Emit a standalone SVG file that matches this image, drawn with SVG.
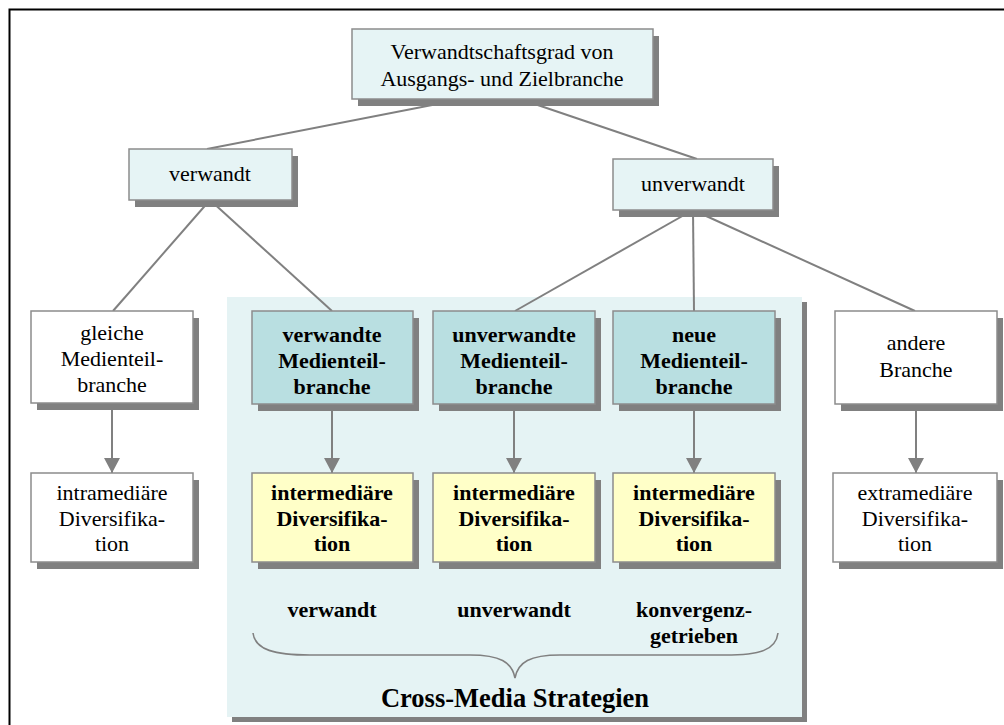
<svg xmlns="http://www.w3.org/2000/svg" width="1004" height="725" viewBox="0 0 1004 725">
  <style>
    .shadow { fill: #808080; }
    .box { stroke: #8c8c8c; stroke-width: 1.5; }
    .pale { fill: #e6f4f5; }
    .teal { fill: #b9dfe1; }
    .yellow { fill: #ffffc8; }
    .white { fill: #ffffff; }
    .t { font-family: "Liberation Serif", "Times New Roman", serif; font-size: 22px; fill: #000; text-anchor: middle; }
    .b { font-weight: bold; }
    .link { stroke: #808080; stroke-width: 2; fill: none; }
  </style>
  <defs>
    <marker id="arrow" markerUnits="userSpaceOnUse" markerWidth="16" markerHeight="16" viewBox="0 0 16 16" refX="15" refY="8" orient="auto">
      <path d="M0,0 L15,8 L0,16 Z" fill="#808080"/>
    </marker>
  </defs>

  <rect width="1004" height="725" fill="#ffffff"/>
  <!-- frame -->
  <path d="M9.5,725 V9.5 H1004" fill="none" stroke="#000" stroke-width="2"/>

  <!-- Cross-Media panel -->
  <g id="panel">
    <rect class="shadow" x="232" y="302" width="575" height="420"/>
    <rect x="227" y="297" width="575" height="420" fill="#e5f3f4"/>
    <text class="t b" x="515" y="707" style="font-size:26.5px">Cross-Media Strategien</text>
  </g>

  <!-- connectors -->
  <g id="connectors">
    <line class="link" x1="463" y1="99" x2="207" y2="149"/>
    <line class="link" x1="520" y1="99" x2="697" y2="159"/>
    <line class="link" x1="210" y1="200" x2="113" y2="311"/>
    <line class="link" x1="210" y1="200" x2="332" y2="311"/>
    <line class="link" x1="693" y1="210" x2="515" y2="311"/>
    <line class="link" x1="693" y1="210" x2="694" y2="311"/>
    <line class="link" x1="693" y1="210" x2="915" y2="311"/>
    <line class="link" x1="112" y1="404" x2="112" y2="473" marker-end="url(#arrow)"/>
    <line class="link" x1="332" y1="404" x2="332" y2="473" marker-end="url(#arrow)"/>
    <line class="link" x1="514" y1="404" x2="514" y2="473" marker-end="url(#arrow)"/>
    <line class="link" x1="694" y1="404" x2="694" y2="473" marker-end="url(#arrow)"/>
    <line class="link" x1="916" y1="404" x2="916" y2="473" marker-end="url(#arrow)"/>
    <!-- brace under the three strategies -->
    <path class="link" style="stroke-width:1.6" d="M253,633 C255,650 275,655 310,655 L470,655 C500,655 512,662 515,678 C518,662 530,655 560,655 L725,655 C760,655 776,650 778,633"/>
  </g>

  <!-- top node -->
  <g id="n-root">
    <rect class="shadow" x="358" y="36" width="301" height="70"/>
    <rect class="box pale" x="352" y="29" width="301" height="70"/>
    <text class="t" x="502" y="59">Verwandtschaftsgrad von</text>
    <text class="t" x="502" y="86">Ausgangs- und Zielbranche</text>
  </g>

  <g id="n-verwandt">
    <rect class="shadow" x="135" y="156" width="163" height="51"/>
    <rect class="box pale" x="129" y="149" width="163" height="51"/>
    <text class="t" x="210" y="181">verwandt</text>
  </g>

  <g id="n-unverwandt">
    <rect class="shadow" x="619" y="166" width="160" height="51"/>
    <rect class="box pale" x="613" y="159" width="160" height="51"/>
    <text class="t" x="693" y="191">unverwandt</text>
  </g>

  <!-- second row -->
  <g id="n-gleiche">
    <rect class="shadow" x="37" y="318" width="162" height="92"/>
    <rect class="box white" x="31" y="311" width="162" height="92"/>
    <text class="t" x="112" y="340">gleiche</text>
    <text class="t" x="112" y="366">Medienteil-</text>
    <text class="t" x="112" y="392">branche</text>
  </g>

  <g id="n-verwandte">
    <rect class="shadow" x="258" y="318" width="161" height="93"/>
    <rect class="box teal" x="252" y="311" width="161" height="93"/>
    <text class="t b" x="332" y="342">verwandte</text>
    <text class="t b" x="332" y="368">Medienteil-</text>
    <text class="t b" x="332" y="394">branche</text>
  </g>

  <g id="n-unverwandte">
    <rect class="shadow" x="439" y="318" width="162" height="93"/>
    <rect class="box teal" x="433" y="311" width="162" height="93"/>
    <text class="t b" x="514" y="342">unverwandte</text>
    <text class="t b" x="514" y="368">Medienteil-</text>
    <text class="t b" x="514" y="394">branche</text>
  </g>

  <g id="n-neue">
    <rect class="shadow" x="619" y="318" width="162" height="93"/>
    <rect class="box teal" x="613" y="311" width="162" height="93"/>
    <text class="t b" x="694" y="342">neue</text>
    <text class="t b" x="694" y="368">Medienteil-</text>
    <text class="t b" x="694" y="394">branche</text>
  </g>

  <g id="n-andere">
    <rect class="shadow" x="841" y="318" width="162" height="93"/>
    <rect class="box white" x="835" y="311" width="162" height="93"/>
    <text class="t" x="916" y="350">andere</text>
    <text class="t" x="916" y="377">Branche</text>
  </g>

  <!-- third row -->
  <g id="n-intra">
    <rect class="shadow" x="37" y="480" width="162" height="89"/>
    <rect class="box white" x="31" y="473" width="162" height="89"/>
    <text class="t" x="112" y="500">intramediäre</text>
    <text class="t" x="112" y="526">Diversifika-</text>
    <text class="t" x="112" y="551">tion</text>
  </g>

  <g id="n-inter1">
    <rect class="shadow" x="258" y="480" width="161" height="89"/>
    <rect class="box yellow" x="252" y="473" width="161" height="89"/>
    <text class="t b" x="332" y="500">intermediäre</text>
    <text class="t b" x="332" y="526">Diversifika-</text>
    <text class="t b" x="332" y="551">tion</text>
  </g>

  <g id="n-inter2">
    <rect class="shadow" x="439" y="480" width="162" height="89"/>
    <rect class="box yellow" x="433" y="473" width="162" height="89"/>
    <text class="t b" x="514" y="500">intermediäre</text>
    <text class="t b" x="514" y="526">Diversifika-</text>
    <text class="t b" x="514" y="551">tion</text>
  </g>

  <g id="n-inter3">
    <rect class="shadow" x="619" y="480" width="162" height="89"/>
    <rect class="box yellow" x="613" y="473" width="162" height="89"/>
    <text class="t b" x="694" y="500">intermediäre</text>
    <text class="t b" x="694" y="526">Diversifika-</text>
    <text class="t b" x="694" y="551">tion</text>
  </g>

  <g id="n-extra">
    <rect class="shadow" x="839" y="480" width="164" height="89"/>
    <rect class="box white" x="833" y="473" width="164" height="89"/>
    <text class="t" x="915" y="500">extramediäre</text>
    <text class="t" x="915" y="526">Diversifika-</text>
    <text class="t" x="915" y="551">tion</text>
  </g>

  <!-- strategy labels -->
  <g id="labels">
    <text class="t b" x="332" y="617">verwandt</text>
    <text class="t b" x="514" y="617">unverwandt</text>
    <text class="t b" x="694" y="617">konvergenz-</text>
    <text class="t b" x="694" y="643">getrieben</text>
  </g>
</svg>
